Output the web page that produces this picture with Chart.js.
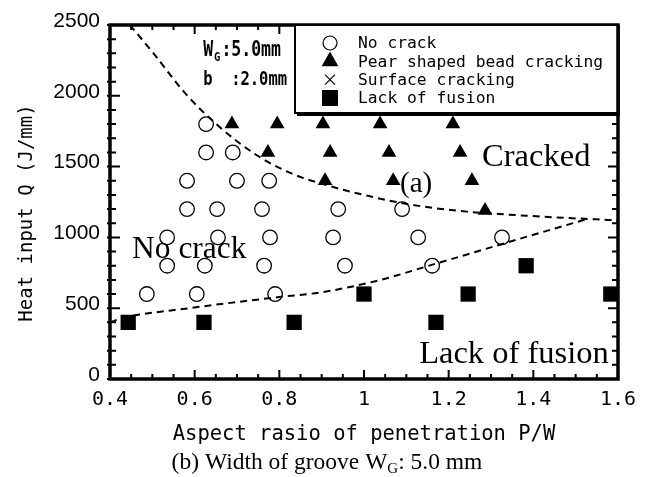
<!DOCTYPE html>
<html lang="en">
<head>
    <meta charset="UTF-8">
    <title>Heat input vs aspect ratio</title>
    <script src="https://cdn.jsdelivr.net/npm/chart.js"></script>
    <style>
        html, body { margin: 0; padding: 0; background: #fff; }
        .chart-container { width: 651px; height: 477px; position: relative; }
    </style>
</head>
<body>
    <div class="chart-container"><canvas id="chart"></canvas></div>
    <script>
        // No crack (open circles)
        const noCrackPW = [0.627, 0.627, 0.69, 0.582, 0.70, 0.776, 0.582, 0.653, 0.759, 0.939, 1.09,
                           0.535, 0.655, 0.778, 0.927, 1.128, 1.326, 0.535, 0.624, 0.764, 0.955, 1.161,
                           0.487, 0.605, 0.79];
        const noCrackQ  = [1800, 1600, 1600, 1400, 1400, 1400, 1200, 1200, 1200, 1200, 1200,
                           1000, 1000, 1000, 1000, 1000, 1000, 800, 800, 800, 800, 800,
                           600, 600, 600];
        // Pear shaped bead cracking (filled triangles)
        const pearPW = [0.688, 0.795, 0.903, 1.038, 1.21, 0.773, 0.92, 1.059, 1.227, 0.908, 1.069, 1.255, 1.286];
        const pearQ  = [1800, 1800, 1800, 1800, 1800, 1600, 1600, 1600, 1600, 1400, 1400, 1400, 1190];
        // Lack of fusion (filled squares)
        const lofPW = [0.443, 0.622, 0.835, 1.0, 1.17, 1.246, 1.383, 1.583];
        const lofQ  = [400, 400, 400, 600, 400, 600, 800, 600];
        // dashed boundaries
        const upperPW = [0.447, 0.50, 0.58, 0.655, 0.747, 0.83, 0.927, 1.007, 1.085, 1.163, 1.243, 1.32, 1.45, 1.6];
        const upperQ  = [2500, 2310, 2010, 1790, 1580, 1450, 1356, 1295, 1245, 1208, 1182, 1165, 1142, 1120];
        const lowerPW = [0.40, 0.43, 0.589, 0.80, 0.903, 1.038, 1.16, 1.352, 1.527];
        const lowerQ  = [400, 430, 501, 579, 614, 699, 806, 976, 1130];

        const xTickValues = [0.4, 0.6, 0.8, 1.0, 1.2, 1.4, 1.6];
        const xTickLabels = ['0.4', '0.6', '0.8', '1', '1.2', '1.4', '1.6'];
        const legendLabels = ['No crack', 'Pear shaped bead cracking', 'Surface cracking', 'Lack of fusion'];
        const legendStyles = ['circle', 'triangle', 'crossRot', 'rect'];

        const zip = (xs, ys) => xs.map((v, i) => ({x: v, y: ys[i]}));
        const MONO = "'DejaVu Sans Mono', monospace";
        const SANS = "'Liberation Sans', Arial, sans-serif";
        const SERIF = "'Liberation Serif', serif";

        // tall narrow text like the original gothic face
        function tallText(ctx, str, x, y) {
            ctx.save();
            ctx.translate(x, y);
            ctx.scale(1, 1.25);
            ctx.fillText(str, 0, 0);
            ctx.restore();
        }

        // frame, tick marks, legend box and text labels
        const decor = {
            id: 'decor',
            afterDatasetsDraw(chart) {
                const {ctx, chartArea: a, scales: {x, y}} = chart;
                ctx.save();
                ctx.strokeStyle = '#000';
                ctx.fillStyle = '#000';
                ctx.lineWidth = 2;
                ctx.beginPath();
                for (let k = 0; k <= 24; k++) {
                    const px = x.getPixelForValue(0.4 + k * 0.05);
                    const len = k % 4 === 0 ? 9 : 5;
                    ctx.moveTo(px, a.bottom); ctx.lineTo(px, a.bottom - len);
                    ctx.moveTo(px, a.top); ctx.lineTo(px, a.top + len);
                }
                for (let k = 0; k <= 25; k++) {
                    const py = y.getPixelForValue(k * 100);
                    const len = k % 5 === 0 ? 10 : 6;
                    ctx.moveTo(a.left - 3, py); ctx.lineTo(a.left + len, py);
                    ctx.moveTo(a.right, py); ctx.lineTo(a.right - len, py);
                }
                ctx.stroke();
                ctx.lineWidth = 3.5;
                ctx.strokeRect(a.left, a.top, a.right - a.left, a.bottom - a.top);

                // legend box
                const lx = a.right - 323, ly = a.top, lw = 323, lh = 88;
                ctx.fillStyle = '#fff';
                ctx.fillRect(lx, ly, lw, lh);
                ctx.lineWidth = 2;
                ctx.strokeRect(lx, ly, lw, lh);
                ctx.fillStyle = '#000';
                ctx.fillRect(lx + 2, ly + lh - 1, lw, 4);
                ctx.lineWidth = 3.5;
                ctx.beginPath(); ctx.moveTo(a.right, a.top); ctx.lineTo(a.right, ly + lh + 3); ctx.stroke();

                ctx.font = '16.3px ' + MONO;
                ctx.textBaseline = 'middle';
                ctx.textAlign = 'left';
                legendLabels.forEach((t, i) => {
                    const cy = ly + 18 + i * 18.3;
                    const st = legendStyles[i];
                    const r = st === 'circle' ? 7 : st === 'triangle' ? 8.5 : st === 'rect' ? 10.5 : 7;
                    ctx.fillStyle = st === 'circle' ? '#fff' : '#000';
                    ctx.strokeStyle = '#000';
                    ctx.lineWidth = st === 'circle' || st === 'crossRot' ? 1.2 : 0;
                    Chart.helpers.drawPoint(ctx, {pointStyle: st, radius: r, rotation: 0, borderWidth: ctx.lineWidth}, lx + 35, cy);
                    ctx.fillStyle = '#000';
                    ctx.fillText(t, lx + 63, cy + 1);
                });

                // groove parameters
                ctx.textBaseline = 'alphabetic';
                ctx.font = 'bold 16.5px ' + MONO;
                let tx = x.getPixelForValue(0.62);
                tallText(ctx, 'W', tx, 56);
                tx += ctx.measureText('W').width + 1;
                ctx.font = 'bold 10.5px ' + MONO;
                tallText(ctx, 'G', tx, 61);
                tx += ctx.measureText('G').width + 1;
                ctx.font = 'bold 16.5px ' + MONO;
                tallText(ctx, ':5.0mm', tx, 56);
                ctx.font = 'bold 15.5px ' + MONO;
                tallText(ctx, 'b  :2.0mm', x.getPixelForValue(0.62), 85);

                // y axis title
                ctx.save();
                ctx.translate(27, 213);
                ctx.rotate(-Math.PI / 2);
                ctx.font = '19px ' + MONO;
                ctx.textAlign = 'center';
                ctx.textBaseline = 'middle';
                ctx.fillText('Heat input Q (J/mm)', 0, 0);
                ctx.restore();

                // region labels
                ctx.font = '31.5px ' + SERIF;
                ctx.fillText('No crack', x.getPixelForValue(0.452), y.getPixelForValue(855));
                ctx.font = '32.5px ' + SERIF;
                ctx.fillText('Cracked', x.getPixelForValue(1.279), y.getPixelForValue(1504));
                ctx.font = '29px ' + SERIF;
                ctx.fillText('(a)', x.getPixelForValue(1.085), y.getPixelForValue(1321));
                ctx.font = '32.5px ' + SERIF;
                ctx.textAlign = 'right';
                ctx.fillText('Lack of fusion', x.getPixelForValue(1.578), y.getPixelForValue(113));

                // caption
                ctx.textAlign = 'left';
                const big = '23.5px ' + SERIF, small = '15px ' + SERIF;
                const p1 = '(b) Width of groove W', p2 = 'G', p3 = ': 5.0 mm';
                ctx.font = big;
                const w1 = ctx.measureText(p1).width, w3 = ctx.measureText(p3).width;
                ctx.font = small;
                const w2 = ctx.measureText(p2).width;
                const cx = 327 - (w1 + w2 + w3) / 2;
                ctx.font = big;
                ctx.fillText(p1, cx, 469);
                ctx.font = small;
                ctx.fillText(p2, cx + w1, 473);
                ctx.font = big;
                ctx.fillText(p3, cx + w1 + w2, 469);
                ctx.restore();
            }
        };

        const ctx = document.getElementById('chart').getContext('2d');
        new Chart(ctx, {
            type: 'scatter',
            data: {
                datasets: [
                    { label: 'upper', data: zip(upperPW, upperQ), showLine: true, pointRadius: 0,
                      borderColor: '#000', borderWidth: 2, borderDash: [7, 5], cubicInterpolationMode: 'monotone' },
                    { label: 'lower', data: zip(lowerPW, lowerQ), showLine: true, pointRadius: 0,
                      borderColor: '#000', borderWidth: 2, borderDash: [7, 5], cubicInterpolationMode: 'monotone' },
                    { label: legendLabels[0], data: zip(noCrackPW, noCrackQ), pointStyle: 'circle', pointRadius: 7.3,
                      backgroundColor: 'rgba(255,255,255,0)', borderColor: '#000', borderWidth: 1.3 },
                    { label: legendLabels[1], data: zip(pearPW, pearQ), pointStyle: 'triangle', pointRadius: 8.5,
                      backgroundColor: '#000', borderColor: '#000', borderWidth: 0 },
                    { label: legendLabels[3], data: zip(lofPW, lofQ), pointStyle: 'rect', pointRadius: 10.8,
                      backgroundColor: '#000', borderColor: '#000', borderWidth: 0 }
                ]
            },
            options: {
                responsive: true,
                maintainAspectRatio: false,
                animation: false,
                layout: { padding: { left: 0, top: 25, right: 33, bottom: 0 } },
                plugins: { legend: { display: false }, tooltip: { enabled: false } },
                scales: {
                    x: {
                        type: 'linear', min: 0.4, max: 1.6,
                        afterFit: s => { s.height = 98; },
                        afterBuildTicks: s => { s.ticks = xTickValues.map(v => ({value: v})); },
                        grid: { display: false, drawTicks: false },
                        border: { display: false },
                        ticks: {
                            padding: 9, color: '#000', font: { family: MONO, size: 20 },
                            maxRotation: 0, autoSkip: false,
                            callback: (v) => xTickLabels[xTickValues.findIndex(t => Math.abs(t - v) < 1e-6)]
                        },
                        title: { display: true, text: 'Aspect rasio of penetration P/W', color: '#000',
                                 font: { family: MONO, size: 20.5 }, padding: { top: 4, bottom: 30 } }
                    },
                    y: {
                        type: 'linear', min: 0, max: 2500,
                        afterFit: s => { s.width = 110; },
                        grid: { display: false, drawTicks: false },
                        border: { display: false },
                        ticks: { stepSize: 500, padding: 10, labelOffset: -4, color: '#000',
                                 font: { family: SANS, size: 21 }, callback: (v) => String(v) }
                    }
                }
            },
            plugins: [decor]
        });
    </script>
</body>
</html>
